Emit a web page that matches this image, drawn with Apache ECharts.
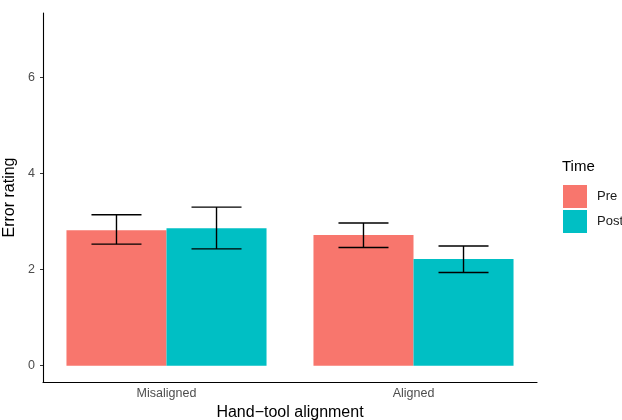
<!DOCTYPE html>
<html><head><meta charset="utf-8">
<script src="https://cdn.jsdelivr.net/npm/echarts@6/dist/echarts.min.js"></script>
<style>html,body{margin:0;padding:0;background:#fff}#c{width:622px;height:420px}</style>
</head><body><div id="c"></div>
<script>
const categories = ['Misaligned', 'Aligned'];
const seriesNames = ['Pre', 'Post'];
const preMean = [2.82, 2.72];
const preLow = [2.53, 2.46];
const preHigh = [3.14, 2.97];
const postMean = [2.86, 2.22];
const postLow = [2.43, 1.94];
const postHigh = [3.30, 2.49];
const yTicks = [0, 2, 4, 6];
const colors = ['#F8766D', '#00BFC4'];
const font = 'Liberation Sans, Arial, sans-serif';
const barFrac = 0.405;

function errSeries(low, high, side) {
  return {
    type: 'custom',
    z: 10,
    data: categories.map((c, i) => [i, low[i], high[i]]),
    encode: { x: 0, y: [1, 2] },
    renderItem: function (params, api) {
      const idx = api.value(0);
      const band = api.size([1, 0])[0];
      const off = side * band * barFrac / 2;
      const lo = api.coord([idx, api.value(1)]);
      const hi = api.coord([idx, api.value(2)]);
      const cx = lo[0] + off;
      const hw = band * barFrac / 4;
      const style = { stroke: '#000', lineWidth: 1.4 };
      return {
        type: 'group',
        children: [
          { type: 'line', shape: { x1: cx, y1: lo[1], x2: cx, y2: hi[1] }, style },
          { type: 'line', shape: { x1: cx - hw, y1: lo[1], x2: cx + hw, y2: lo[1] }, style },
          { type: 'line', shape: { x1: cx - hw, y1: hi[1], x2: cx + hw, y2: hi[1] }, style }
        ]
      };
    }
  };
}

const chart = echarts.init(document.getElementById('c'), null, { renderer: 'canvas' });
chart.setOption({
  animation: false,
  backgroundColor: '#fff',
  textStyle: { fontFamily: font },
  grid: { left: 43, right: 85, top: 13, bottom: 38, containLabel: false, outerBoundsMode: 'none' },
  legend: {
    data: seriesNames,
    orient: 'vertical',
    left: 563, top: 185,
    padding: 0,
    itemWidth: 24, itemHeight: 23, itemGap: 2,
    icon: 'rect',
    textStyle: { fontSize: 13, color: '#1a1a1a', fontFamily: font, padding: [0, 0, 0, 5] },
    selectedMode: false
  },
  graphic: [{
    type: 'text', left: 562, top: 159,
    style: { text: 'Time', fontSize: 15, fill: '#000', fontFamily: font }
  }],
  xAxis: {
    type: 'category',
    data: categories,
    name: 'Hand\u2212tool alignment',
    nameLocation: 'middle',
    nameGap: 22,
    nameTextStyle: { fontSize: 16, color: '#000', fontFamily: font },
    axisLine: { onZero: false, lineStyle: { color: '#000', width: 1.1 } },
    axisTick: { alignWithLabel: true, length: 3, lineStyle: { color: '#333' } },
    axisLabel: { fontSize: 12.5, color: '#4d4d4d', margin: 5, fontFamily: font }
  },
  yAxis: {
    type: 'value',
    min: -0.34, max: 7.34,
    name: 'Error rating',
    nameLocation: 'middle',
    nameRotate: 90,
    nameGap: 19,
    nameTextStyle: { fontSize: 16, color: '#000', fontFamily: font },
    axisLine: { show: true, onZero: false, lineStyle: { color: '#000', width: 1.1 } },
    axisTick: { show: true, length: 3, customValues: yTicks, lineStyle: { color: '#333' } },
    axisLabel: { fontSize: 12.5, color: '#4d4d4d', margin: 8, customValues: yTicks, fontFamily: font },
    splitLine: { show: false }
  },
  series: [
    { name: 'Pre', type: 'bar', data: preMean, barWidth: (barFrac * 100) + '%', barGap: '0%', itemStyle: { color: colors[0] } },
    { name: 'Post', type: 'bar', data: postMean, barWidth: (barFrac * 100) + '%', barGap: '0%', itemStyle: { color: colors[1] } },
    errSeries(preLow, preHigh, -1),
    errSeries(postLow, postHigh, 1)
  ]
});
</script></body></html>
